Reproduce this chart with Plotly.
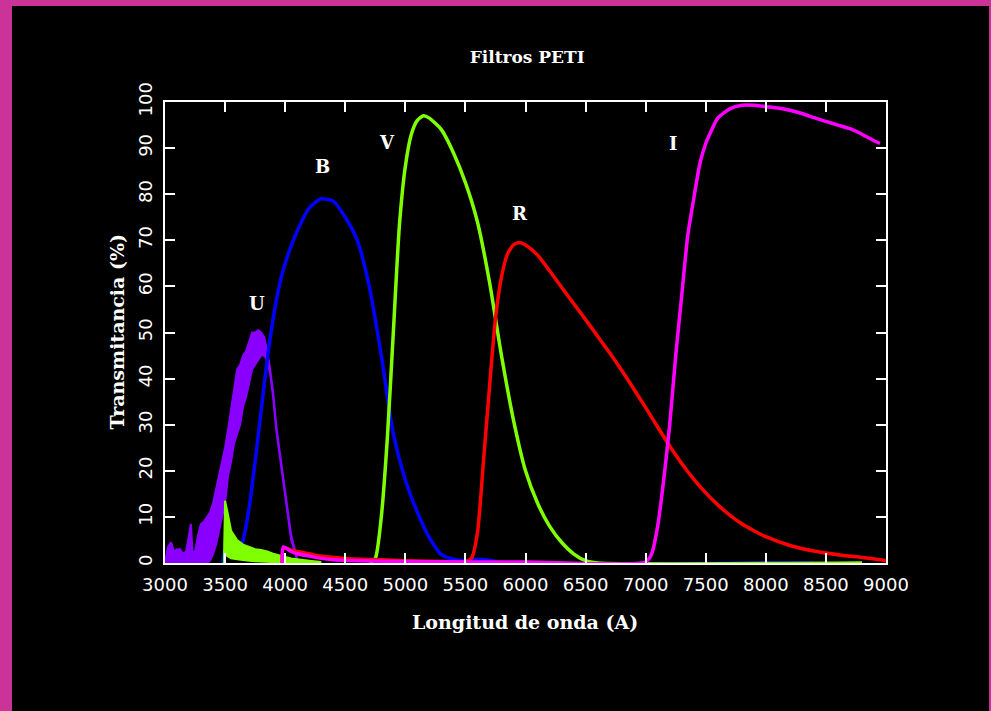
import plotly.graph_objects as go

# ---------------- data (wavelength in Angstrom, transmittance in %) ----------------
U_wl = [3000, 3025, 3050, 3075, 3100, 3125, 3150, 3175, 3200, 3215, 3230, 3250, 3275, 3300,
        3325, 3350, 3375, 3400, 3425, 3450, 3475, 3500, 3525, 3550, 3575, 3600, 3625, 3650,
        3675, 3700, 3725, 3750, 3775, 3800, 3825, 3850, 3875, 3900, 3925, 3950, 3975, 4000,
        4025, 4050, 4075, 4100, 4125]
U_upper = [0, 3.5, 4.5, 2.5, 3, 3, 2, 2.5, 6, 8.5, 2, 2.5, 6, 8.5,
           9, 10, 11, 13, 16, 19, 22, 25, 29, 33, 38, 42, 43, 45,
           46, 48, 50, 50, 50.5, 50, 49, 46, 42, 37, 30, 25, 20, 15,
           11, 6, 3.5, 1, 0]
U_lower = [0, 0, 0, 0, 0, 0, 0, 0, 0, 0, 0, 0, 0, 0,
           0, 0, 0.5, 2, 4, 7, 10, 13, 19, 22, 26, 28, 30, 34,
           36, 39, 42, 43, 44, 45, 45, 44, 41, 36, 29, 24, 19, 14,
           10, 5, 3, 0.5, 0]

B_wl = [3480, 3500, 3550, 3600, 3650, 3700, 3750, 3800, 3850, 3900, 3950, 4000, 4100, 4200,
        4300, 4400, 4500, 4600, 4700, 4800, 4900, 5000, 5100, 5200, 5300, 5400, 5500, 5600,
        5700, 5800, 8100, 8400]
B_T = [0, 3, 1.5, 1.5, 5, 12, 22, 33, 44, 53, 60, 65, 72, 77,
       79, 78.5, 75, 70, 60, 45, 28, 18, 11, 5.5, 1.8, 0.8, 0.5, 0.8,
       0.6, 0, 0, 0]

V_wl = [4700, 4750, 4800, 4850, 4900, 4950, 5000, 5050, 5100, 5150, 5200, 5300, 5400, 5500,
        5600, 5700, 5800, 5900, 6000, 6100, 6200, 6300, 6400, 6500, 6600, 8800]
V_T = [0, 1, 10, 27, 50, 73, 86, 93, 96, 97, 96.5, 94, 89, 82.5,
       74, 61, 45, 31, 20, 13, 8, 4.5, 2, 0.5, 0, 0]

V_leak_wl = [3490, 3500, 3520, 3550, 3600, 3650, 3700, 3750, 3800, 3850, 3900, 3950, 4000,
             4050, 4100, 4200, 4300]
V_leak_upper = [0, 13.5, 11, 7, 5, 4, 3.5, 3, 2.8, 2.5, 2, 1.6, 1.3, 1, 0.8, 0.5, 0.2]
V_leak_lower = [0, 2, 1.5, 1, 0.8, 0.6, 0.5, 0.4, 0.3, 0.3, 0.2, 0.2, 0.1, 0.1, 0, 0, 0]

R_wl = [3975, 3985, 4050, 4100, 4200, 4300, 4500, 4800, 5000, 5300, 5500, 5550, 5600, 5650,
        5700, 5750, 5800, 5850, 5900, 5950, 6000, 6100, 6200, 6300, 6400, 6500, 6600, 6700,
        6800, 6900, 7000, 7100, 7200, 7300, 7400, 7500, 7600, 7700, 7800, 7900, 8000, 8200,
        8400, 8600, 8800, 8950, 9000]
R_T = [0, 3.2, 2.8, 2.5, 2, 1.5, 1, 0.7, 0.5, 0.3, 0.3, 1, 6.5, 22,
       38, 53, 62, 67, 69, 69.5, 69, 66.8, 63.4, 59.8, 56.3, 52.8, 49.2, 45.6,
       41.8, 37.8, 33.7, 29.5, 25.4, 21.6, 18.2, 15.2, 12.6, 10.4, 8.5, 7, 5.7, 3.8,
       2.6, 1.8, 1.2, 0.7, 0.5]

I_wl = [3975, 3985, 4050, 4100, 4200, 4300, 4400, 4600, 5000, 6000, 7000, 7050, 7100, 7150,
        7200, 7250, 7300, 7350, 7400, 7450, 7500, 7550, 7600, 7700, 7800, 7900, 8000, 8100,
        8200, 8300, 8400, 8500, 8600, 8700, 8800, 8900, 8950]
I_T = [0, 3.5, 2.5, 2, 1.5, 1, 0.7, 0.5, 0.3, 0.2, 0.2, 2, 8, 18,
       30, 45, 58, 71, 79, 86.5, 91, 94, 96.5, 98.5, 99.3, 99.3, 99, 98.7,
       98.2, 97.5, 96.6, 95.8, 95, 94.2, 93, 91.6, 91]

labels = ["U", "B", "V", "R", "I"]
label_wl = [3766, 4307, 4848, 5954, 7228]
label_T = [56.4, 86, 91.3, 75.9, 91.1]

x_ticks = [3000, 3500, 4000, 4500, 5000, 5500, 6000, 6500, 7000, 7500, 8000, 8500, 9000]
y_ticks = [0, 10, 20, 30, 40, 50, 60, 70, 80, 90, 100]

# ---------------- styles ----------------
PURPLE = "#8a00ff"
BLUE = "#0000ff"
GREEN = "#80ff00"
RED = "#ff0000"
MAGENTA = "#ff00ff"
SERIF = "DejaVu Serif"
SPL = dict(shape="spline", smoothing=0.6)

fig = go.Figure()

# U (noisy band)
fig.add_trace(go.Scatter(x=U_wl, y=U_lower, mode="lines",
                         line=dict(color=PURPLE, width=2), hoverinfo="skip"))
fig.add_trace(go.Scatter(x=U_wl, y=U_upper, mode="lines", fill="tonexty",
                         fillcolor=PURPLE, line=dict(color=PURPLE, width=2)))
# B
fig.add_trace(go.Scatter(x=B_wl, y=B_T, mode="lines", line=dict(color=BLUE, width=3.5, **SPL)))
# V leak band and V main
fig.add_trace(go.Scatter(x=V_leak_wl, y=V_leak_lower, mode="lines",
                         line=dict(color=GREEN, width=2), hoverinfo="skip"))
fig.add_trace(go.Scatter(x=V_leak_wl, y=V_leak_upper, mode="lines", fill="tonexty",
                         fillcolor=GREEN, line=dict(color=GREEN, width=2)))
fig.add_trace(go.Scatter(x=V_wl, y=V_T, mode="lines", line=dict(color=GREEN, width=3.5, **SPL)))
# R
fig.add_trace(go.Scatter(x=R_wl, y=R_T, mode="lines", line=dict(color=RED, width=3.5, **SPL)))
# I
fig.add_trace(go.Scatter(x=I_wl, y=I_T, mode="lines", line=dict(color=MAGENTA, width=3.5, **SPL)))

for t, xw, yt in zip(labels, label_wl, label_T):
    fig.add_annotation(x=xw, y=yt, text=t, showarrow=False,
                       font=dict(family=SERIF, size=18, color="white", weight="bold"))

# axis titles as annotations
fig.add_annotation(xref="paper", yref="paper", x=0.4993, y=-0.128, text="Longitud de onda (A)",
                   showarrow=False, xanchor="center", yanchor="middle",
                   font=dict(family=SERIF, size=19, color="white", weight="bold"))
fig.add_annotation(xref="paper", yref="paper", x=-0.0666, y=0.502, text="Transmitancia (%)",
                   showarrow=False, xanchor="center", yanchor="middle", textangle=-90,
                   font=dict(family=SERIF, size=19, color="white", weight="bold"))

# black canvas inside the magenta frame
fig.add_shape(type="rect", xref="paper", yref="paper", x0=-0.2122, x1=1.1429,
              y0=-0.35, y1=1.2082, fillcolor="black", line=dict(width=0), layer="below")

axis_common = dict(showgrid=False, zeroline=False, showline=True, linecolor="white",
                   linewidth=2, mirror="ticks", ticks="inside", tickcolor="white",
                   tickwidth=2, ticklen=10,
                   tickfont=dict(family="DejaVu Sans", size=18, color="white"))

fig.update_layout(
    width=991, height=711,
    margin=dict(l=165, r=105, t=102, b=148),
    paper_bgcolor="#cc3399",
    plot_bgcolor="black",
    showlegend=False,
    title=dict(text="Filtros PETI", x=0.532, y=1 - 57 / 711, xanchor="center",
               yanchor="middle",
               font=dict(family=SERIF, size=17, color="white", weight="bold")),
    xaxis=dict(range=[3000, 9000], tickvals=x_ticks, ticklabelstandoff=4, **axis_common),
    yaxis=dict(range=[0, 100], tickvals=y_ticks, tickangle=-90, ticklabelstandoff=4,
               **axis_common),
)

fig.write_html("out.html", config={"displayModeBar": False},
               post_script="document.body.style.margin='0';")
